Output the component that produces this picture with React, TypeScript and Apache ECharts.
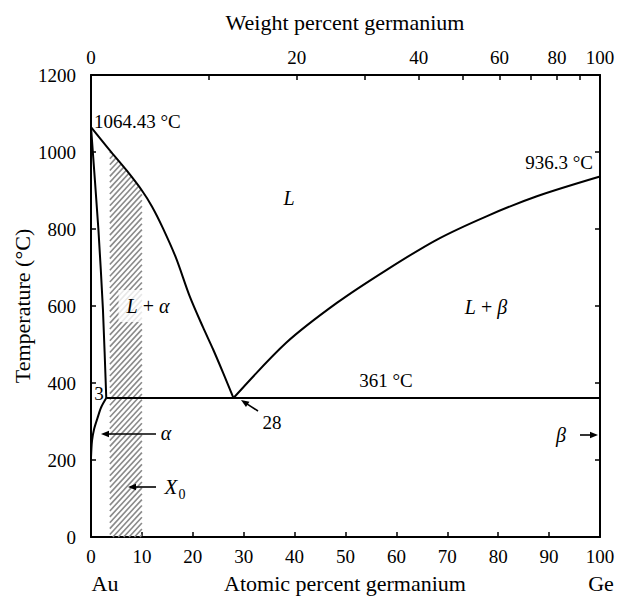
import React, { useEffect, useRef } from "react";
import * as echarts from "echarts";

// ---- data ----
const atomicRange = [0, 100];
const tempRange = [0, 1200];
const weightTicks = [10, 20, 30, 40, 50, 60, 70, 80, 90];
const weightLabels = [0, 20, 40, 60, 80, 100];
const liquidusAu = [
  [0, 1064.43], [3.7, 1004], [7, 952], [10, 900], [12, 858], [14.1, 803],
  [16.7, 725], [19.4, 625], [22, 545], [24, 487], [26, 425], [28, 361],
];
const liquidusGe = [
  [28, 361], [38.4, 505], [48.3, 608], [58.1, 694], [67.9, 772],
  [77.7, 833], [87.6, 885], [100, 936.3],
];
const solidusAlpha = [[0, 1064.43], [1.45, 800], [2.35, 590], [3, 361]];
const solvusAlpha = [[3, 361], [2, 337], [1.3, 310], [0.6, 280], [0.2, 250], [0, 205]];
const eutecticLine = [[3, 361], [100, 361]];
const hatchRange = [3.7, 10];

const M_AU = 196.97;
const M_GE = 72.63;
const wtToAt = (w: number) => {
  if (w >= 100) return 100;
  if (w <= 0) return 0;
  const a = w / M_GE;
  const b = (100 - w) / M_AU;
  return (100 * a) / (a + b);
};

const FONT = "'Liberation Serif', 'Times New Roman', serif";

function clipSegment(p0: number[], p1: number[], poly: number[][]) {
  let tE = 0;
  let tL = 1;
  const n = poly.length;
  const cx = poly.reduce((s, p) => s + p[0], 0) / n;
  const cy = poly.reduce((s, p) => s + p[1], 0) / n;
  for (let i = 0; i < n; i++) {
    const a = poly[i];
    const b = poly[(i + 1) % n];
    let nx = -(b[1] - a[1]);
    let ny = b[0] - a[0];
    if (Math.abs(nx) + Math.abs(ny) < 1e-9) continue;
    if (nx * (cx - a[0]) + ny * (cy - a[1]) < 0) {
      nx = -nx;
      ny = -ny;
    }
    const num = nx * (p0[0] - a[0]) + ny * (p0[1] - a[1]);
    const den = nx * (p1[0] - p0[0]) + ny * (p1[1] - p0[1]);
    if (Math.abs(den) < 1e-9) {
      if (num < 0) return null;
      continue;
    }
    const t = -num / den;
    if (den > 0) tE = Math.max(tE, t);
    else tL = Math.min(tL, t);
  }
  if (tE >= tL) return null;
  return [
    [p0[0] + (p1[0] - p0[0]) * tE, p0[1] + (p1[1] - p0[1]) * tE],
    [p0[0] + (p1[0] - p0[0]) * tL, p0[1] + (p1[1] - p0[1]) * tL],
  ];
}

function arrow(x1: number, y1: number, x2: number, y2: number) {
  const dx = x2 - x1;
  const dy = y2 - y1;
  const len = Math.sqrt(dx * dx + dy * dy);
  const ux = dx / len;
  const uy = dy / len;
  const hl = 8;
  const hw = 3.2;
  const bx = x2 - ux * hl;
  const by = y2 - uy * hl;
  return [
    {
      type: "line",
      z: 100,
      shape: { x1, y1, x2: bx + ux * 1, y2: by + uy * 1 },
      style: { stroke: "#000", lineWidth: 1.6 },
    },
    {
      type: "polygon",
      z: 100,
      shape: {
        points: [
          [x2, y2],
          [bx - uy * hw, by + ux * hw],
          [bx + uy * hw, by - ux * hw],
        ],
      },
      style: { fill: "#000" },
    },
  ];
}

function txt(text: string, x: number, y: number, opts: any = {}) {
  return {
    type: "text",
    z: 100,
    x,
    y,
    rotation: opts.rotation || 0,
    style: {
      text,
      fill: "#000",
      fontFamily: FONT,
      fontSize: opts.fontSize || 19,
      fontStyle: opts.italic ? "italic" : "normal",
      align: opts.align || "center",
      verticalAlign: "middle",
      backgroundColor: opts.bg,
      padding: opts.padding,
      rich: opts.rich,
    },
  };
}

export default function App() {
  const ref = useRef<HTMLDivElement>(null);
  useEffect(() => {
    if (!ref.current) return;
    const chart = echarts.init(ref.current, undefined, { renderer: "svg" });

    const hatchTop = liquidusAu
      .filter((p) => p[0] >= hatchRange[0] && p[0] <= hatchRange[1])
      .slice()
      .reverse();
    const hatchPoly = [[hatchRange[0], 0], [hatchRange[1], 0], ...hatchTop];

    const axisLine = { show: true, onZero: false, lineStyle: { color: "#000", width: 2 } };
    const tick = { show: true, inside: true, length: 5, lineStyle: { color: "#000", width: 1.5 } };
    const label = { color: "#000", fontFamily: FONT, fontSize: 19 };
    const wLabelAt = weightLabels.map(wtToAt);

    const lineSeries = (data: number[][], smooth: number) => ({
      type: "line",
      data,
      smooth,
      symbol: "none",
      showSymbol: false,
      silent: true,
      z: 5,
      lineStyle: { color: "#000", width: 2 },
    });

    chart.setOption({
      animation: false,
      grid: { left: 91, right: 19, top: 75, bottom: 68 },
      xAxis: [
        {
          type: "value",
          position: "bottom",
          min: atomicRange[0],
          max: atomicRange[1],
          interval: 10,
          axisLine,
          axisTick: tick,
          axisLabel: { ...label, margin: 10, formatter: (v: number) => String(v) },
          splitLine: { show: false },
        },
        {
          type: "value",
          position: "top",
          min: atomicRange[0],
          max: atomicRange[1],
          axisLine,
          axisTick: { ...tick, customValues: weightTicks.map(wtToAt) },
          axisLabel: {
            ...label,
            margin: 8,
            customValues: wLabelAt,
            formatter: (v: number) => {
              let best = 0;
              for (let i = 0; i < wLabelAt.length; i++) {
                if (Math.abs(wLabelAt[i] - v) < Math.abs(wLabelAt[best] - v)) best = i;
              }
              return String(weightLabels[best]);
            },
          },
          splitLine: { show: false },
        },
      ],
      yAxis: [
        {
          type: "value",
          position: "left",
          min: tempRange[0],
          max: tempRange[1],
          interval: 200,
          axisLine,
          axisTick: tick,
          axisLabel: { ...label, margin: 15, formatter: (v: number) => String(v) },
          splitLine: { show: false },
        },
        {
          type: "value",
          position: "right",
          min: tempRange[0],
          max: tempRange[1],
          interval: 200,
          axisLine,
          axisTick: tick,
          axisLabel: { show: false },
          splitLine: { show: false },
        },
      ],
      series: [
        {
          type: "custom",
          silent: true,
          z: 1,
          data: [[0, 0]],
          renderItem: (_params: any, api: any) => {
            const pts = hatchPoly.map((p) => api.coord(p));
            const xs = pts.map((p: number[]) => p[0]);
            const ys = pts.map((p: number[]) => p[1]);
            const minX = Math.min(...xs);
            const maxX = Math.max(...xs);
            const minY = Math.min(...ys);
            const maxY = Math.max(...ys);
            const H = maxY - minY;
            const children: any[] = [];
            for (let c = minX - H - 10; c < maxX + 10; c += 5.4) {
              const seg = clipSegment([c, maxY], [c + H * 0.92, minY], pts);
              if (!seg) continue;
              children.push({
                type: "line",
                shape: { x1: seg[0][0], y1: seg[0][1], x2: seg[1][0], y2: seg[1][1] },
                style: { stroke: "#8a8a8a", lineWidth: 1.6 },
              });
            }
            return { type: "group", children };
          },
        },
        lineSeries(liquidusAu, 0.3),
        lineSeries(liquidusGe, 0.3),
        lineSeries(solidusAlpha, 0.2),
        lineSeries(solvusAlpha, 0.3),
        lineSeries(eutecticLine, 0),
      ],
      graphic: [
        txt("Weight percent germanium", 345, 22, { fontSize: 22 }),
        txt("Atomic percent germanium", 345, 583, { fontSize: 22 }),
        txt("Au", 105, 583, { fontSize: 22 }),
        txt("Ge", 601, 583, { fontSize: 22 }),
        txt("Temperature (°C)", 22, 306, { fontSize: 22, rotation: Math.PI / 2 }),
        txt("1064.43 °C", 94, 121, { align: "left" }),
        txt("936.3 °C", 593, 162, { align: "right" }),
        txt("L", 289, 198, { italic: true, fontSize: 20 }),
        txt("{i|L} + {i|α}", 148, 306, {
          fontSize: 20,
          bg: "rgba(255,255,255,0.8)",
          padding: [6, 8, 6, 8],
          rich: { i: { fontStyle: "italic", fontFamily: FONT, fontSize: 20 } },
        }),
        txt("{i|L} + {i|β}", 486, 307, {
          fontSize: 20,
          rich: { i: { fontStyle: "italic", fontFamily: FONT, fontSize: 20 } },
        }),
        txt("361 °C", 386, 380),
        txt("3", 99, 393),
        txt("28", 272, 422),
        txt("α", 166, 433, { italic: true, fontSize: 20 }),
        txt("X", 171, 487, { italic: true, fontSize: 21 }),
        txt("0", 182, 494, { fontSize: 14 }),
        txt("β", 561, 435, { italic: true, fontSize: 20 }),
        ...arrow(258, 411, 241, 400),
        ...arrow(156, 434, 101, 434),
        ...arrow(156, 487, 128, 487),
        ...arrow(580, 435, 598, 435),
      ],
    });
    return () => chart.dispose();
  }, []);
  return <div ref={ref} style={{ width: 619, height: 605, position: "absolute", left: 0, top: 0 }} />;
}
